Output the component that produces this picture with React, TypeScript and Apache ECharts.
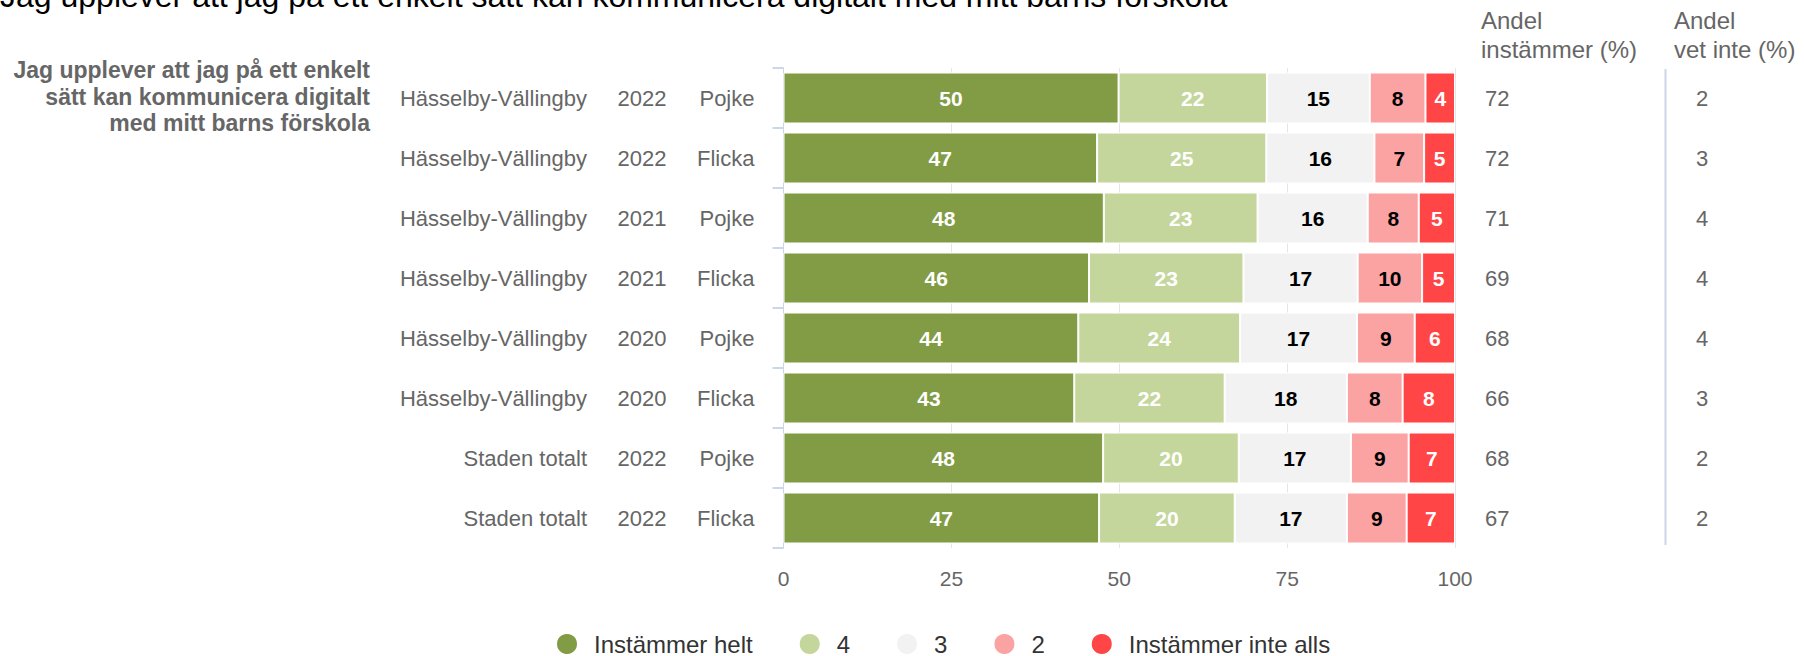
import React, { useEffect, useRef } from "react";
import * as echarts from "echarts";

const regions = [
  "Hässelby-Vällingby",
  "Hässelby-Vällingby",
  "Hässelby-Vällingby",
  "Hässelby-Vällingby",
  "Hässelby-Vällingby",
  "Hässelby-Vällingby",
  "Staden totalt",
  "Staden totalt",
];
const years = ["2022", "2022", "2021", "2021", "2020", "2020", "2022", "2022"];
const genders = ["Pojke", "Flicka", "Pojke", "Flicka", "Pojke", "Flicka", "Pojke", "Flicka"];

const instammerHelt = [49.9, 46.7, 47.7, 45.5, 43.9, 43.3, 47.6, 47.0];
const fyra = [22.1, 25.2, 22.9, 23.0, 24.1, 22.4, 20.2, 20.2];
const tre = [15.3, 16.1, 16.4, 17.0, 17.4, 18.2, 16.7, 16.7];
const tva = [8.3, 7.4, 7.6, 9.6, 8.6, 8.3, 8.6, 8.9];
const instammerInteAlls = [4.4, 4.6, 5.4, 4.9, 6.0, 7.8, 6.9, 7.2];

const andelInstammer = [72, 72, 71, 69, 68, 66, 68, 67];
const andelVetInte = [2, 3, 4, 4, 4, 3, 2, 2];

const seriesNames = ["Instämmer helt", "4", "3", "2", "Instämmer inte alls"];
const xTicks = [0, 25, 50, 75, 100];

const titleText =
  "Jag upplever att jag på ett enkelt sätt kan kommunicera digitalt med mitt barns förskola";
const questionText =
  "Jag upplever att jag på ett enkelt\nsätt kan kommunicera digitalt\nmed mitt barns förskola";

const FONT = "'Liberation Sans', Arial, sans-serif";
const GRAY = "#666666";

export default function App() {
  const ref = useRef<HTMLDivElement>(null);

  useEffect(() => {
    if (!ref.current) return;
    const chart = echarts.init(ref.current, undefined, { renderer: "svg" });
    const categories = regions.map((_, i) => String(i));
    const colors = ["#829c45", "#c4d69c", "#f2f2f2", "#fba3a3", "#ff4545"];
    const labelColors = ["#ffffff", "#ffffff", "#000000", "#000000", "#ffffff"];
    const dataSets = [instammerHelt, fyra, tre, tva, instammerInteAlls];

    const hiddenAxis = {
      type: "category",
      inverse: true,
      data: categories,
      position: "left",
      axisLine: { show: false },
      axisTick: { show: false },
      splitLine: { show: false },
    };

    const option: any = {
      animation: false,
      textStyle: { fontFamily: FONT },
      grid: { left: 783.5, right: 349, top: 68, bottom: 108, containLabel: false },
      legend: {
        data: seriesNames,
        left: 550,
        top: 627,
        icon: "circle",
        itemWidth: 22,
        itemHeight: 22,
        itemGap: 45,
        textStyle: { fontSize: 24, color: "#333333", fontFamily: FONT, padding: [0, 0, 0, 11] },
      },
      xAxis: {
        type: "value",
        min: 0,
        max: 100,
        interval: 25,
        axisLine: { show: false },
        axisTick: { show: false },
        splitLine: { show: true, lineStyle: { color: "#e6e6e6", width: 1 } },
        axisLabel: {
          margin: 20,
          fontSize: 21,
          color: GRAY,
          fontFamily: FONT,
          formatter: (v: number) => (xTicks.includes(v) ? String(v) : ""),
        },
      },
      yAxis: [
        {
          type: "category",
          inverse: true,
          position: "left",
          data: categories,
          axisLine: { show: true, lineStyle: { color: "#ccd6eb", width: 1 } },
          axisTick: { show: true, length: 11, lineStyle: { color: "#ccd6eb", width: 2 } },
          axisLabel: {
            interval: 0,
            margin: 29,
            fontSize: 22,
            color: GRAY,
            fontFamily: FONT,
            formatter: (v: string) => genders[Number(v)],
          },
        },
        {
          type: "category",
          inverse: true,
          position: "right",
          data: categories,
          axisLine: { show: false },
          axisTick: { show: false },
          splitLine: { show: false },
          axisLabel: {
            interval: 0,
            margin: 30,
            fontFamily: FONT,
            formatter: (v: string) => {
              const i = Number(v);
              return `{x|${andelInstammer[i]}}{y|${andelVetInte[i]}}`;
            },
            rich: {
              x: { width: 182, align: "left", fontSize: 22, color: GRAY, fontFamily: FONT },
              y: { width: 70, align: "center", fontSize: 22, color: GRAY, fontFamily: FONT },
            },
          },
        },
        {
          ...hiddenAxis,
          offset: 131.5,
          axisLabel: {
            interval: 0,
            margin: 10,
            align: "center",
            fontSize: 22,
            color: GRAY,
            fontFamily: FONT,
            formatter: (v: string) => years[Number(v)],
          },
        },
        {
          ...hiddenAxis,
          offset: 186.5,
          axisLabel: {
            interval: 0,
            margin: 10,
            align: "right",
            fontSize: 22,
            color: GRAY,
            fontFamily: FONT,
            formatter: (v: string) => regions[Number(v)],
          },
        },
      ],
      series: dataSets.map((d, si) => ({
        name: seriesNames[si],
        type: "bar",
        stack: "total",
        yAxisIndex: 0,
        barWidth: 51,
        data: d,
        itemStyle: { color: colors[si], borderColor: "#ffffff", borderWidth: 1 },
        label: {
          show: true,
          position: "inside",
          color: labelColors[si],
          fontSize: 21,
          fontWeight: "bold",
          fontFamily: FONT,
          formatter: (p: any) => String(Math.round(p.value)),
        },
      })),
      graphic: [
        {
          type: "text",
          left: 0,
          top: -20,
          style: { text: titleText, fontSize: 32, fill: "#000000", fontFamily: FONT },
        },
        {
          type: "text",
          x: 370,
          y: 57,
          style: {
            text: questionText,
            fontSize: 23,
            fontWeight: "bold",
            fill: GRAY,
            align: "right",
            lineHeight: 26.5,
            fontFamily: FONT,
          },
        },
        {
          type: "text",
          x: 1481,
          y: 6,
          style: {
            text: "Andel\ninstämmer (%)",
            fontSize: 24,
            fill: GRAY,
            lineHeight: 29,
            fontFamily: FONT,
          },
        },
        {
          type: "text",
          x: 1674,
          y: 6,
          style: {
            text: "Andel\nvet inte (%)",
            fontSize: 24,
            fill: GRAY,
            lineHeight: 29,
            fontFamily: FONT,
          },
        },
        {
          type: "line",
          shape: { x1: 1665.5, y1: 69, x2: 1665.5, y2: 545 },
          style: { stroke: "#ccd6eb", lineWidth: 2 },
        },
      ],
    };
    chart.setOption(option);
    return () => chart.dispose();
  }, []);

  return (
    <div
      ref={ref}
      style={{ position: "absolute", left: 0, top: 0, width: 1804, height: 656 }}
    />
  );
}
